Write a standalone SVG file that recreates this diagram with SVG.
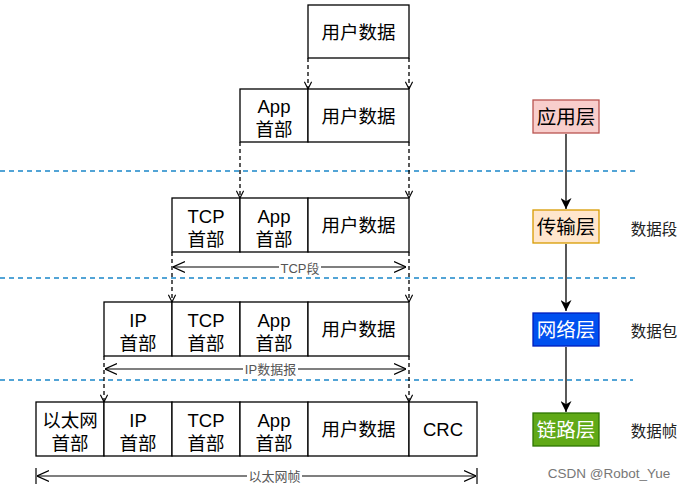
<svg xmlns="http://www.w3.org/2000/svg" width="686" height="489" viewBox="0 0 686 489">
<style>
.box{fill:#fff;stroke:#000;stroke-width:1.3}
.t{font-family:"Liberation Sans","Noto Sans CJK SC",sans-serif;font-size:18.5px;fill:#000;text-anchor:middle}
.s{font-family:"Liberation Sans","Noto Sans CJK SC",sans-serif;font-size:13px;fill:#555;text-anchor:middle}
.side{font-family:"Liberation Sans","Noto Sans CJK SC",sans-serif;font-size:15.5px;fill:#222;text-anchor:middle}
.dash{stroke:#000;stroke-width:1.3;stroke-dasharray:4 3;fill:none}
.sep{stroke:#1a87c9;stroke-width:1.3;stroke-dasharray:5 4}
.dim{stroke:#000;stroke-width:1.2;fill:none}
.lay{font-family:"Liberation Sans","Noto Sans CJK SC",sans-serif;font-size:19.5px;text-anchor:middle}
</style>
<defs>
<marker id="v" viewBox="0 0 10 10" refX="10" refY="5" markerWidth="8" markerHeight="8" orient="auto" markerUnits="userSpaceOnUse">
<path d="M1,0.5 L10,5 L1,9.5" fill="none" stroke="#000" stroke-width="1.4"/>
</marker>
<marker id="open" viewBox="0 0 10 10" refX="10" refY="5" markerWidth="12" markerHeight="12" orient="auto-start-reverse" markerUnits="userSpaceOnUse">
<path d="M0,0.5 L10,5 L0,9.5" fill="none" stroke="#000" stroke-width="1.1"/>
</marker>
<marker id="fill" viewBox="0 0 10 10" refX="10" refY="5" markerWidth="11" markerHeight="11" orient="auto" markerUnits="userSpaceOnUse">
<path d="M0,0 L10,5 L0,10 L3,5 Z" fill="#000"/>
</marker>
</defs>
<rect width="686" height="489" fill="#fff"/>

<g id="separators">
<line class="sep" x1="0" y1="171" x2="637" y2="171"/>
<line class="sep" x1="0" y1="278" x2="637" y2="278"/>
<line class="sep" x1="0" y1="380" x2="633" y2="380"/>
</g>

<g id="connectors">
<line class="dash" x1="308" y1="58" x2="308" y2="89" marker-end="url(#v)"/>
<line class="dash" x1="409" y1="58" x2="409" y2="89" marker-end="url(#v)"/>
<line class="dash" x1="240" y1="142" x2="240" y2="198" marker-end="url(#v)"/>
<line class="dash" x1="409" y1="142" x2="409" y2="198" marker-end="url(#v)"/>
<line class="dash" x1="172" y1="252" x2="172" y2="302" marker-end="url(#v)"/>
<line class="dash" x1="409" y1="252" x2="409" y2="302" marker-end="url(#v)"/>
<line class="dash" x1="104" y1="356" x2="104" y2="402" marker-end="url(#v)"/>
<line class="dash" x1="409" y1="356" x2="409" y2="402" marker-end="url(#v)"/>
<line stroke="#000" stroke-width="1.3" x1="566" y1="134" x2="566" y2="209" marker-end="url(#fill)"/>
<line stroke="#000" stroke-width="1.3" x1="566" y1="244" x2="566" y2="311" marker-end="url(#fill)"/>
<line stroke="#000" stroke-width="1.3" x1="566" y1="347" x2="566" y2="412" marker-end="url(#fill)"/>
</g>

<g id="row1">
<rect class="box" x="308" y="5" width="101" height="53"/>
<text class="t" x="358.5" y="38.5">用户数据</text>
</g>

<g id="row2">
<rect class="box" x="240" y="89" width="68" height="53"/>
<rect class="box" x="308" y="89" width="101" height="53"/>
<text class="t" x="274" y="113">App</text>
<text class="t" x="274" y="136">首部</text>
<text class="t" x="358.5" y="122.5">用户数据</text>
</g>

<g id="row3">
<rect class="box" x="172" y="198" width="68" height="54"/>
<rect class="box" x="240" y="198" width="68" height="54"/>
<rect class="box" x="308" y="198" width="101" height="54"/>
<text class="t" x="206" y="222.5">TCP</text>
<text class="t" x="206" y="245.5">首部</text>
<text class="t" x="274" y="222.5">App</text>
<text class="t" x="274" y="245.5">首部</text>
<text class="t" x="358.5" y="232">用户数据</text>
</g>

<g id="dim-tcp">
<line class="dim" x1="173" y1="267" x2="406" y2="267" marker-start="url(#open)" marker-end="url(#open)"/>
<rect x="279" y="260" width="42" height="15" fill="#fff"/>
<text class="s" x="300" y="272.5">TCP段</text>
</g>

<g id="row4">
<rect class="box" x="104" y="302" width="68" height="54"/>
<rect class="box" x="172" y="302" width="68" height="54"/>
<rect class="box" x="240" y="302" width="68" height="54"/>
<rect class="box" x="308" y="302" width="101" height="54"/>
<text class="t" x="138" y="326.5">IP</text>
<text class="t" x="138" y="349.5">首部</text>
<text class="t" x="206" y="326.5">TCP</text>
<text class="t" x="206" y="349.5">首部</text>
<text class="t" x="274" y="326.5">App</text>
<text class="t" x="274" y="349.5">首部</text>
<text class="t" x="358.5" y="336">用户数据</text>
</g>

<g id="dim-ip">
<line class="dim" x1="105" y1="369" x2="406" y2="369" marker-start="url(#open)" marker-end="url(#open)"/>
<rect x="243" y="362" width="55" height="15" fill="#fff"/>
<text class="s" x="270.5" y="374">IP数据报</text>
</g>

<g id="row5">
<rect class="box" x="36" y="402" width="68" height="54"/>
<rect class="box" x="104" y="402" width="68" height="54"/>
<rect class="box" x="172" y="402" width="68" height="54"/>
<rect class="box" x="240" y="402" width="68" height="54"/>
<rect class="box" x="308" y="402" width="101" height="54"/>
<rect class="box" x="409" y="402" width="68" height="54"/>
<text class="t" x="70" y="426.5">以太网</text>
<text class="t" x="70" y="449.5">首部</text>
<text class="t" x="138" y="426.5">IP</text>
<text class="t" x="138" y="449.5">首部</text>
<text class="t" x="206" y="426.5">TCP</text>
<text class="t" x="206" y="449.5">首部</text>
<text class="t" x="274" y="426.5">App</text>
<text class="t" x="274" y="449.5">首部</text>
<text class="t" x="358.5" y="436">用户数据</text>
<text class="t" x="443" y="436">CRC</text>
</g>

<g id="dim-eth">
<line class="dim" x1="36" y1="468" x2="36" y2="484"/>
<line class="dim" x1="477" y1="468" x2="477" y2="484"/>
<line class="dim" x1="37" y1="476" x2="476" y2="476" marker-start="url(#open)" marker-end="url(#open)"/>
<rect x="247" y="469" width="55" height="15" fill="#fff"/>
<text class="s" x="274.5" y="481">以太网帧</text>
</g>

<g id="layer-app">
<rect x="533" y="100" width="66" height="33" fill="#f8cecc" stroke="#b85450" stroke-width="1.3"/>
<text class="lay" x="566" y="124" fill="#000">应用层</text>
</g>
<g id="layer-transport">
<rect x="533" y="210" width="66" height="33" fill="#ffe6cc" stroke="#d79b00" stroke-width="1.3"/>
<text class="lay" x="566" y="234" fill="#000">传输层</text>
</g>
<g id="layer-network">
<rect x="533" y="313" width="66" height="33" fill="#0050ef" stroke="#001dbc" stroke-width="1.3"/>
<text class="lay" x="566" y="337" fill="#fff">网络层</text>
</g>
<g id="layer-link">
<rect x="533" y="413" width="66" height="33" fill="#60a917" stroke="#2d7600" stroke-width="1.3"/>
<text class="lay" x="566" y="437" fill="#fff">链路层</text>
</g>

<g id="side-labels">
<text class="side" x="654" y="235">数据段</text>
<text class="side" x="654" y="337">数据包</text>
<text class="side" x="654" y="437">数据帧</text>
</g>

<text x="609" y="478" font-family="Liberation Sans,Noto Sans CJK SC,sans-serif" font-size="13.5" fill="#777" text-anchor="middle">CSDN @Robot_Yue</text>
</svg>
